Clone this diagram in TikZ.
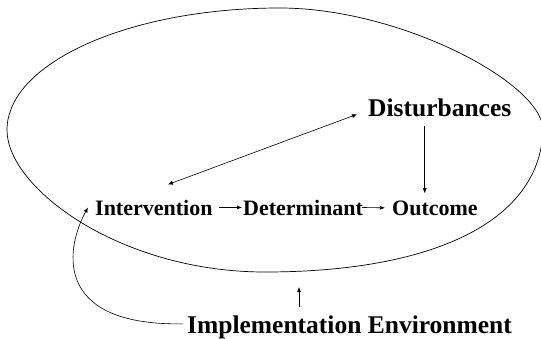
\documentclass[tikz,border=0pt]{standalone}
\usepackage{fontspec}
\setmainfont{Liberation Serif}
\usetikzlibrary{arrows.meta}

\tikzset{
    label/.style={font=\bfseries\fontsize{22}{26}\selectfont, inner sep=0pt, anchor=base west},
    biglabel/.style={font=\bfseries\fontsize{25.5}{30}\selectfont, inner sep=0pt, anchor=base west},
    arr/.style={-{Latex[length=5pt,width=4pt]}, line width=0.6pt},
}

\begin{document}
\begin{tikzpicture}[x=1pt, y=1pt]

    \useasboundingbox (0,0) rectangle (541,338);

    % Draw the outer oval
    \draw[line width=0.7pt] (7,208) .. controls (7,275) and (129,330) .. (280,330)
        .. controls (400,330) and (543,255) .. (543,208)
        .. controls (540,115) and (430,66) .. (265,66)
        .. controls (120,66) and (7,150) .. cycle;

    % Place the labels
    \node[label] (int) at (95,123) {Intervention};
    \node[label] (det) at (243,123) {Determinant};
    \node[label] (out) at (392,123) {Outcome};
    \node[biglabel] (dist) at (368,221) {Disturbances};
    \node[biglabel] (impl) at (187,5) {Implementation Environment};

    % Define the points
    \coordinate (ebot) at (299,51);
    \coordinate (dtop) at ([xshift=-15pt,yshift=-8pt]dist.south);
    \path (dtop |- out.north) ++(0,7) coordinate (obot);
    \path (ebot |- impl.north) ++(0,8) coordinate (itop);

    % Draw the chain
    \draw[arr] ([xshift=6pt]int.east) -- ([xshift=-1pt]det.west);
    \draw[arr] ([xshift=-1pt]det.east) -- ([xshift=-7pt]out.west);

    % Disturbances link both ways
    \draw[{Latex[length=5pt,width=4pt]}-{Latex[length=5pt,width=4pt]}, line width=0.6pt]
        ([xshift=14pt,yshift=15pt]int.north) -- ([xshift=-11pt,yshift=-6pt]dist.west);
    \draw[arr] (dtop) -- (obot);

    % Environment arrows
    \draw[arr] (itop) -- (ebot);
    \draw[arr] ([xshift=-4pt,yshift=3pt]impl.west)
        .. controls +(-135,-2) and +(-20,-36) .. ([xshift=-7pt]int.west);

\end{tikzpicture}
\end{document}
